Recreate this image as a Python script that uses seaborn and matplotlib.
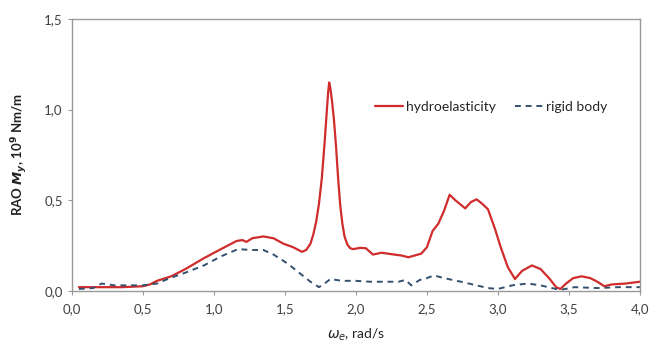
import matplotlib
matplotlib.use('Agg')
import matplotlib.pyplot as plt
import seaborn as sns
import pandas as pd

# frequency, rad/s
omega_he = [0.05, 0.2, 0.35, 0.5, 0.55, 0.6, 0.7, 0.8, 0.93, 1.05, 1.16, 1.2, 1.23, 1.27, 1.35, 1.42,
            1.49, 1.56, 1.62, 1.65, 1.68, 1.7, 1.72, 1.74, 1.76, 1.78, 1.795, 1.805, 1.812, 1.82,
            1.83, 1.845, 1.86, 1.875, 1.89, 1.905, 1.92, 1.94, 1.96, 1.98, 2.03, 2.07, 2.12, 2.18,
            2.27, 2.32, 2.37, 2.46, 2.5, 2.54, 2.58, 2.62, 2.66, 2.7, 2.77, 2.81, 2.85, 2.89,
            2.93, 2.98, 3.02, 3.07, 3.12, 3.17, 3.24, 3.3, 3.36, 3.41, 3.44, 3.48, 3.53, 3.59,
            3.65, 3.7, 3.75, 3.8, 3.9, 4.0]
rao_he = [0.02, 0.02, 0.02, 0.025, 0.035, 0.055, 0.08, 0.12, 0.18, 0.23, 0.275, 0.28, 0.27, 0.29, 0.30, 0.29,
          0.26, 0.24, 0.215, 0.225, 0.26, 0.31, 0.38, 0.48, 0.62, 0.82, 0.99, 1.10, 1.15, 1.12,
          1.06, 0.95, 0.80, 0.62, 0.47, 0.37, 0.30, 0.255, 0.235, 0.23, 0.237, 0.235, 0.20, 0.21,
          0.20, 0.195, 0.185, 0.205, 0.24, 0.33, 0.37, 0.44, 0.53, 0.50, 0.455, 0.49, 0.505, 0.48,
          0.45, 0.34, 0.24, 0.13, 0.065, 0.11, 0.14, 0.12, 0.07, 0.02, 0.01, 0.04, 0.07, 0.08,
          0.07, 0.05, 0.025, 0.035, 0.04, 0.05]

omega_rb = [0.05, 0.15, 0.21, 0.3, 0.4, 0.5, 0.6, 0.69, 0.8, 0.93, 1.05, 1.17, 1.27, 1.35, 1.42, 1.52,
            1.6, 1.68, 1.74, 1.78, 1.82, 1.9, 2.0, 2.1, 2.2, 2.3, 2.35, 2.39, 2.45, 2.5, 2.55,
            2.62, 2.74, 2.85, 2.93, 3.0, 3.1, 3.21, 3.3, 3.38, 3.44, 3.54, 3.7, 3.85, 4.0]
rao_rb = [0.01, 0.015, 0.04, 0.03, 0.03, 0.03, 0.04, 0.07, 0.1, 0.14, 0.19, 0.23, 0.225, 0.225, 0.2, 0.15,
          0.1, 0.05, 0.02, 0.04, 0.065, 0.055, 0.055, 0.05, 0.05, 0.05, 0.06, 0.03, 0.06, 0.07, 0.085,
          0.07, 0.05, 0.03, 0.015, 0.01, 0.03, 0.04, 0.03, 0.015, 0.005, 0.02, 0.015, 0.02, 0.02]

df_he = pd.DataFrame({"omega": omega_he, "rao": rao_he})
df_rb = pd.DataFrame({"omega": omega_rb, "rao": rao_rb})

sns.set_style("white")
plt.rcParams['font.family'] = ['Lato', 'DejaVu Sans']
plt.rcParams['mathtext.fontset'] = 'dejavusans'

fig = plt.figure(figsize=(6.53, 3.47), dpi=100)
ax = fig.add_axes([0.110, 0.162, 0.870, 0.783])

sns.lineplot(data=df_he, x="omega", y="rao", color="#d02c2c", linewidth=1.6,
             label="hydroelasticity", ax=ax)
sns.lineplot(data=df_rb, x="omega", y="rao", color="#34506e", linewidth=1.4,
             linestyle=(0, (3, 2.5)), label="rigid body", ax=ax)

ax.set_xlim(0, 4.0)
ax.set_ylim(0, 1.5)
xt = [0.0, 0.5, 1.0, 1.5, 2.0, 2.5, 3.0, 3.5, 4.0]
yt = [0.0, 0.5, 1.0, 1.5]
ax.set_xticks(xt)
ax.set_yticks(yt)
ax.set_xticklabels([f"{v:.1f}".replace(".", ",") for v in xt])
ax.set_yticklabels([f"{v:.1f}".replace(".", ",") for v in yt])
ax.tick_params(axis="both", labelsize=9.5, labelcolor="#404040", color="#999999",
               length=3, width=0.8, direction="out", left=True, bottom=True)
ax.tick_params(axis="x", pad=6)

for s in ax.spines.values():
    s.set_color("#999999")
    s.set_linewidth(1.0)

ax.set_xlabel(r"$\omega_e$, rad/s", fontsize=10, color="#222222", labelpad=8)
ax.set_ylabel(r"RAO $\mathbfit{M_y}$, 10$^\mathbf{9}$ Nm/m", fontsize=9.5, fontweight="bold",
              color="#222222", labelpad=10)

ax.legend(loc="center", bbox_to_anchor=(0.738, 0.676), ncol=2, frameon=False,
          fontsize=10, handlelength=2.0, handletextpad=0.2, columnspacing=1.4)

fig.savefig("out.png", dpi=100)
